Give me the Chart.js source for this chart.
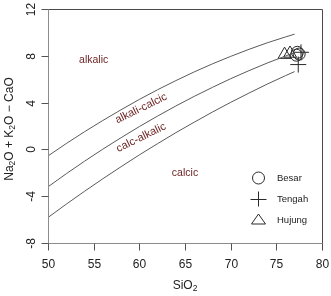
<!DOCTYPE html>
<html>
<head>
<meta charset="utf-8">
<script src="https://cdn.jsdelivr.net/npm/chart.js@4.4.1/dist/chart.umd.min.js"></script>
<style>
    html, body { margin: 0; padding: 0; background: #fff; overflow: hidden; }
</style>
</head>
<body>
<canvas id="mali-chart" width="331" height="296"></canvas>
<script>
// boundary curves (SiO2 vs Na2O+K2O-CaO)
const sio2Grid = [50, 52, 54, 56, 58, 60, 62, 64, 66, 68, 70, 72, 74, 76, 77];
const alkalicBoundary = [-0.56, 0.50, 1.51, 2.47, 3.39, 4.27, 5.10, 5.88, 6.62, 7.31, 7.95, 8.55, 9.11, 9.61, 9.85];
const alkaliCalcicBoundary = [-3.20, -2.08, -1.01, 0.02, 1.00, 1.95, 2.85, 3.71, 4.53, 5.30, 6.04, 6.73, 7.38, 7.98, 8.27];
const calcAlkalicBoundary = [-5.82, -4.68, -3.58, -2.51, -1.48, -0.47, 0.49, 1.43, 2.32, 3.19, 4.02, 4.81, 5.58, 6.30, 6.65];

// samples
const besarSiO2 = [77.2, 77.3, 77.5];
const besarMali = [8.05, 8.3, 8.15];
const tengahSiO2 = [77.7, 77.4];
const tengahMali = [8.3, 7.25];
const hujungSiO2 = [75.9, 76.5];
const hujungMali = [8.1, 8.2];

const seriesNames = ['Besar', 'Tengah', 'Hujung'];
const fieldNames = ['alkalic', 'alkali-calcic', 'calc-alkalic', 'calcic'];

const xTicks = [50, 55, 60, 65, 70, 75, 80];
const yTicks = [-8, -4, 0, 4, 8, 12];

function toPoints(xs, ys) {
    return xs.map((x, i) => ({ x: x, y: ys[i] }));
}

function curve(values) {
    return {
        data: toPoints(sio2Grid, values),
        showLine: true,
        borderColor: '#5a5a5a',
        borderWidth: 1,
        pointRadius: 0,
        tension: 0
    };
}

function symbols(xs, ys, style, r) {
    return {
        data: toPoints(xs, ys),
        showLine: false,
        pointStyle: style,
        pointRadius: r,
        pointBorderColor: '#2a2a2a',
        pointBackgroundColor: 'rgba(0,0,0,0)',
        pointBorderWidth: 1
    };
}

const font = '"Liberation Sans", Arial, sans-serif';

// where the field names sit (data coords), their tilt and size
const fieldLabels = [
    { x: 55.0, y: 7.6, a: 0, s: 10.5 },
    { x: 60.2, y: 3.5, a: -26, s: 11 },
    { x: 60.2, y: 1.0, a: -26, s: 11 },
    { x: 65.0, y: -2.0, a: 0, s: 10.5 }
];

function drawSub(ctx, parts, x, y, align) {
    // parts: [text, isSub]
    let total = 0;
    parts.forEach(p => {
        ctx.font = (p[1] ? '8.5px ' : '12px ') + font;
        total += ctx.measureText(p[0]).width;
    });
    let cx = align === 'center' ? x - total / 2 : x;
    ctx.textAlign = 'left';
    parts.forEach(p => {
        ctx.font = (p[1] ? '8.5px ' : '12px ') + font;
        ctx.fillText(p[0], cx, p[1] ? y + 3 : y);
        cx += ctx.measureText(p[0]).width;
    });
}

const frame = {
    id: 'frame',
    afterDraw(chart) {
        const ctx = chart.ctx;
        const xs = chart.scales.x, ys = chart.scales.y;
        const a = chart.chartArea;
        const L = Math.round(a.left) + 0.5, R = Math.round(a.right) + 0.5;
        const T = Math.round(a.top) + 0.5, B = Math.round(a.bottom) + 0.5;
        ctx.save();

        // box (top/right darker, axes grey)
        ctx.lineWidth = 1;
        ctx.strokeStyle = '#4a4a4a';
        ctx.beginPath();
        ctx.moveTo(L, T); ctx.lineTo(R, T); ctx.lineTo(R, B);
        ctx.stroke();
        ctx.strokeStyle = '#8c8c8c';
        ctx.beginPath();
        ctx.moveTo(L, T); ctx.lineTo(L, B); ctx.lineTo(R, B);
        ctx.stroke();

        // ticks
        ctx.fillStyle = '#222';
        ctx.font = '12px ' + font;
        xTicks.forEach(v => {
            const px = Math.round(xs.getPixelForValue(v)) + 0.5;
            ctx.strokeStyle = v === 80 ? '#4a4a4a' : '#555';
            ctx.beginPath(); ctx.moveTo(px, B); ctx.lineTo(px, B + 7); ctx.stroke();
            ctx.textAlign = 'center'; ctx.textBaseline = 'middle';
            ctx.fillText(String(v), px, B + 21);
        });
        yTicks.forEach(v => {
            const py = Math.round(ys.getPixelForValue(v)) + 0.5;
            ctx.strokeStyle = '#555';
            ctx.beginPath(); ctx.moveTo(L, py); ctx.lineTo(L - 7, py); ctx.stroke();
            ctx.save();
            ctx.translate(31.5, py);
            ctx.rotate(-Math.PI / 2);
            ctx.textAlign = 'center'; ctx.textBaseline = 'middle';
            ctx.fillText(String(v), 0, 0);
            ctx.restore();
        });

        // axis titles
        ctx.textBaseline = 'middle';
        drawSub(ctx, [['SiO', false], ['2', true]], (a.left + a.right) / 2, 286, 'center');
        ctx.save();
        ctx.translate(10, 129);
        ctx.rotate(-Math.PI / 2);
        drawSub(ctx, [['Na', false], ['2', true], ['O + K', false], ['2', true], ['O \u2212 CaO', false]], 0, 0, 'center');
        ctx.restore();

        // field names
        ctx.fillStyle = '#6e2424';
        ctx.textAlign = 'center'; ctx.textBaseline = 'middle';
        fieldNames.forEach((name, i) => {
            const f = fieldLabels[i];
            ctx.save();
            ctx.font = f.s + 'px ' + font;
            ctx.translate(xs.getPixelForValue(f.x), ys.getPixelForValue(f.y));
            ctx.rotate(f.a * Math.PI / 180);
            ctx.fillText(name, 0, 0);
            ctx.restore();
        });

        // legend
        const rows = [178, 199, 220];
        const sx = 258.5;
        ctx.strokeStyle = '#2a2a2a';
        ctx.lineWidth = 1;
        ctx.beginPath(); ctx.arc(sx, rows[0], 6, 0, Math.PI * 2); ctx.stroke();
        ctx.beginPath();
        ctx.moveTo(sx - 8, rows[1] + 0.5); ctx.lineTo(sx + 8, rows[1] + 0.5);
        ctx.moveTo(sx, rows[1] - 7.5); ctx.lineTo(sx, rows[1] + 7.5);
        ctx.stroke();
        ctx.beginPath();
        ctx.moveTo(sx, rows[2] - 6); ctx.lineTo(sx + 7, rows[2] + 4);
        ctx.lineTo(sx - 7, rows[2] + 4); ctx.closePath(); ctx.stroke();
        ctx.fillStyle = '#222';
        ctx.font = '9.5px ' + font;
        ctx.textAlign = 'left';
        seriesNames.forEach((n, i) => ctx.fillText(n, 277, rows[i]));

        ctx.restore();
    }
};

const ctx = document.getElementById('mali-chart').getContext('2d');
new Chart(ctx, {
    type: 'scatter',
    data: {
        datasets: [
            curve(alkalicBoundary),
            curve(alkaliCalcicBoundary),
            curve(calcAlkalicBoundary),
            symbols(hujungSiO2, hujungMali, 'triangle', 7.5),
            symbols(besarSiO2, besarMali, 'circle', 6),
            symbols(tengahSiO2, tengahMali, 'cross', 8)
        ]
    },
    options: {
        responsive: false,
        devicePixelRatio: 1,
        animation: false,
        layout: { padding: { left: 48, right: 7, top: 6, bottom: 53 } },
        plugins: { legend: { display: false }, tooltip: { enabled: false } },
        scales: {
            x: { type: 'linear', min: 50, max: 80, display: false },
            y: { type: 'linear', min: -8, max: 12, display: false }
        }
    },
    plugins: [frame]
});
</script>
</body>
</html>
